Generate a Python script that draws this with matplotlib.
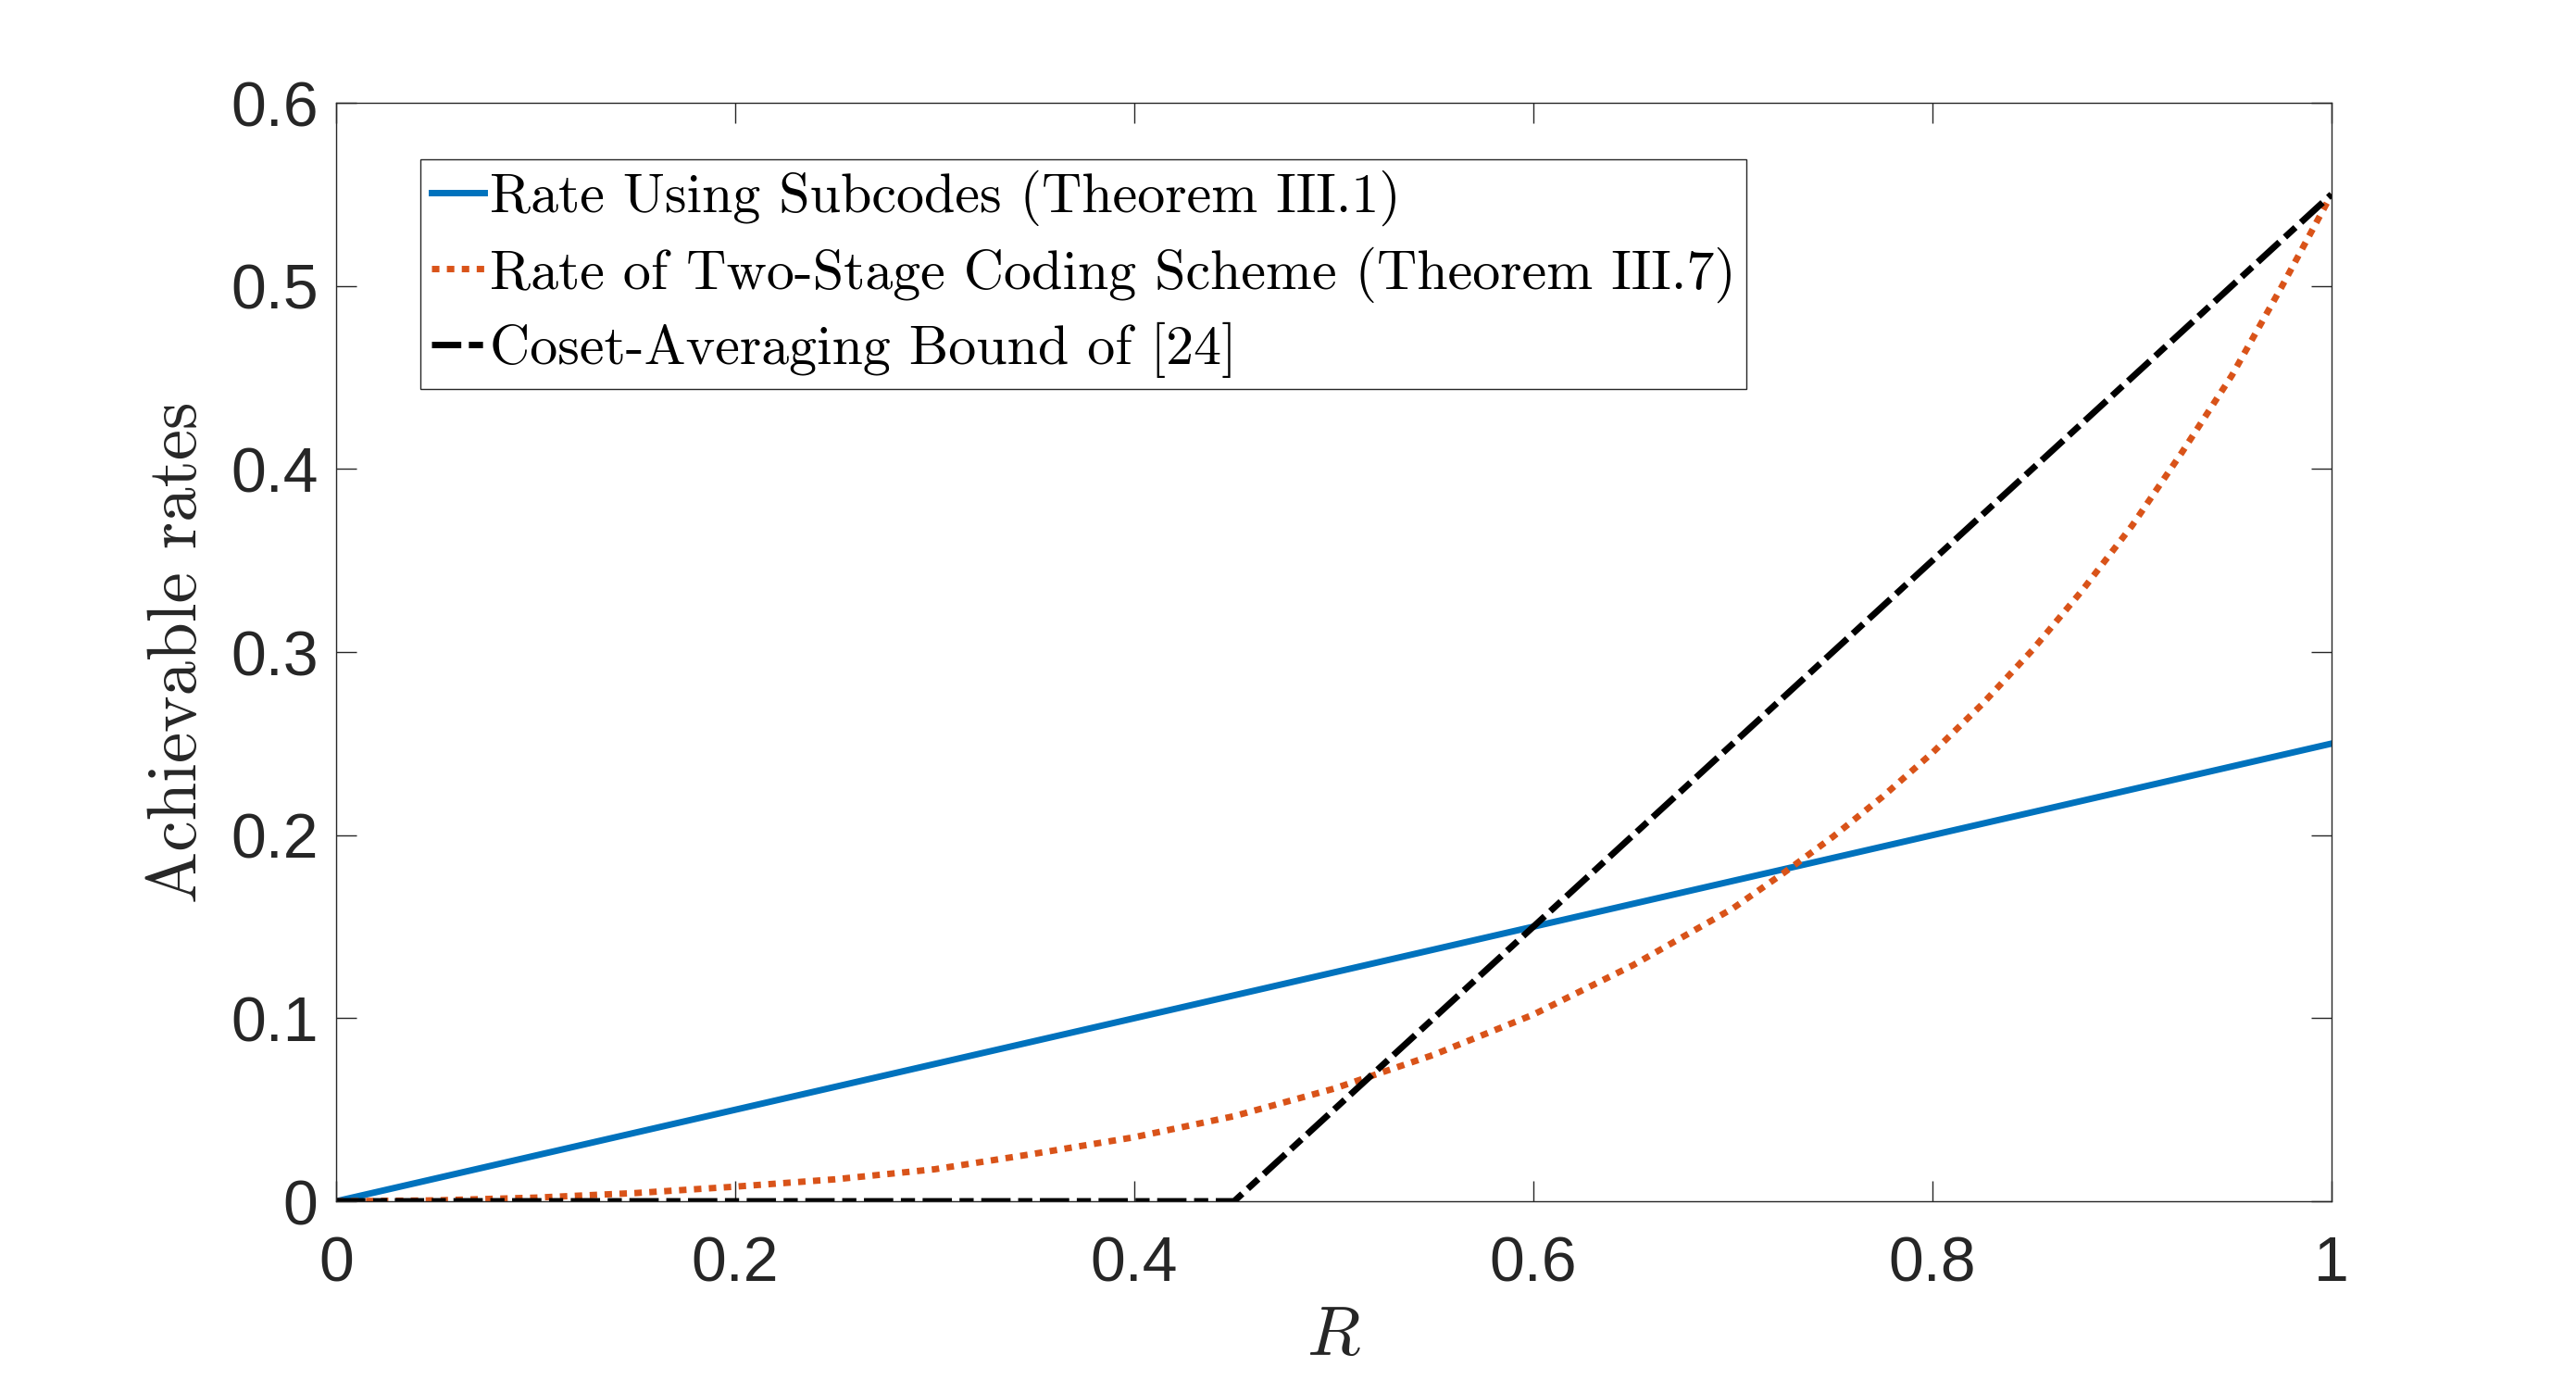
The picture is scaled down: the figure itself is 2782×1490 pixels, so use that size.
import matplotlib
matplotlib.use("Agg")
import matplotlib.pyplot as plt

# values
rate_R = [0.0, 1.0]
rate_subcodes = [0.0, 0.25]

coset_R = [0.0, 0.45, 1.0]
coset_bound = [0.0, 0.0, 0.55]

two_stage_R = [0.0, 0.05, 0.1, 0.15, 0.2, 0.25, 0.3, 0.35, 0.4, 0.45, 0.5, 0.55,
               0.6, 0.65, 0.7, 0.725, 0.75, 0.775, 0.8, 0.825, 0.85, 0.875,
               0.9, 0.925, 0.95, 0.975, 1.0]
two_stage_rate = [0.0, 0.0005, 0.002, 0.0045, 0.008, 0.012, 0.0175, 0.026, 0.035,
                  0.0465, 0.0615, 0.080, 0.102, 0.129, 0.160, 0.179, 0.199, 0.221,
                  0.245, 0.2716, 0.301, 0.3336, 0.369, 0.409, 0.451, 0.4995, 0.55]

labels = ["Rate Using Subcodes (Theorem III.1)",
          "Rate of Two-Stage Coding Scheme (Theorem III.7)",
          "Coset-Averaging Bound of [24]"]

x_ticks = [0, 0.2, 0.4, 0.6, 0.8, 1.0]
x_ticklabels = ["0", "0.2", "0.4", "0.6", "0.8", "1"]
y_ticks = [0, 0.1, 0.2, 0.3, 0.4, 0.5, 0.6]
y_ticklabels = ["0", "0.1", "0.2", "0.3", "0.4", "0.5", "0.6"]

plt.rcParams["mathtext.fontset"] = "cm"
plt.rcParams["lines.scale_dashes"] = False
dark = "#262626"

fig = plt.figure(figsize=(13.91, 7.45), dpi=200)
ax = fig.add_axes([0.1305, 0.1295, 0.7746, 0.796])

ax.plot(rate_R, rate_subcodes, color="#0072BD", lw=2.5, label=labels[0])
ax.plot(two_stage_R, two_stage_rate, color="#D95319", lw=2.5,
        dashes=(2.9, 2.9), dash_capstyle="butt", label=labels[1])
ax.plot(coset_R, coset_bound, color="black", lw=2.5,
        dashes=(11.4, 2.95, 5.5, 2.95), dash_capstyle="butt", label=labels[2])

ax.set_xlim(0, 1)
ax.set_ylim(0, 0.6)
ax.set_xticks(x_ticks)
ax.set_xticklabels(x_ticklabels)
ax.set_yticks(y_ticks)
ax.set_yticklabels(y_ticklabels)
ax.tick_params(direction="in", length=7.8, width=0.5, color=dark,
               top=True, right=True, labelsize=24.5, labelcolor=dark, pad=7)
ax.tick_params(axis="x", pad=13)
for lab in ax.get_xticklabels() + ax.get_yticklabels():
    lab.set_fontfamily("Liberation Sans")
for sp in ax.spines.values():
    sp.set_linewidth(0.5)
    sp.set_color(dark)

ax.set_xlabel("$R$", fontsize=27, color=dark, labelpad=3)
ax.set_ylabel("Achievable rates", fontsize=27, family="cmr10", color=dark, labelpad=8)

leg = ax.legend(loc="upper left", bbox_to_anchor=(0.042, 0.9486), borderaxespad=0,
                prop={"family": "cmr10", "size": 21.6}, handlelength=0.95,
                handletextpad=0.1, borderpad=0.2, labelspacing=0.36,
                fancybox=False, framealpha=1)
leg.get_frame().set_edgecolor(dark)
leg.get_frame().set_linewidth(0.5)

fig.savefig("out.png", dpi=200)
